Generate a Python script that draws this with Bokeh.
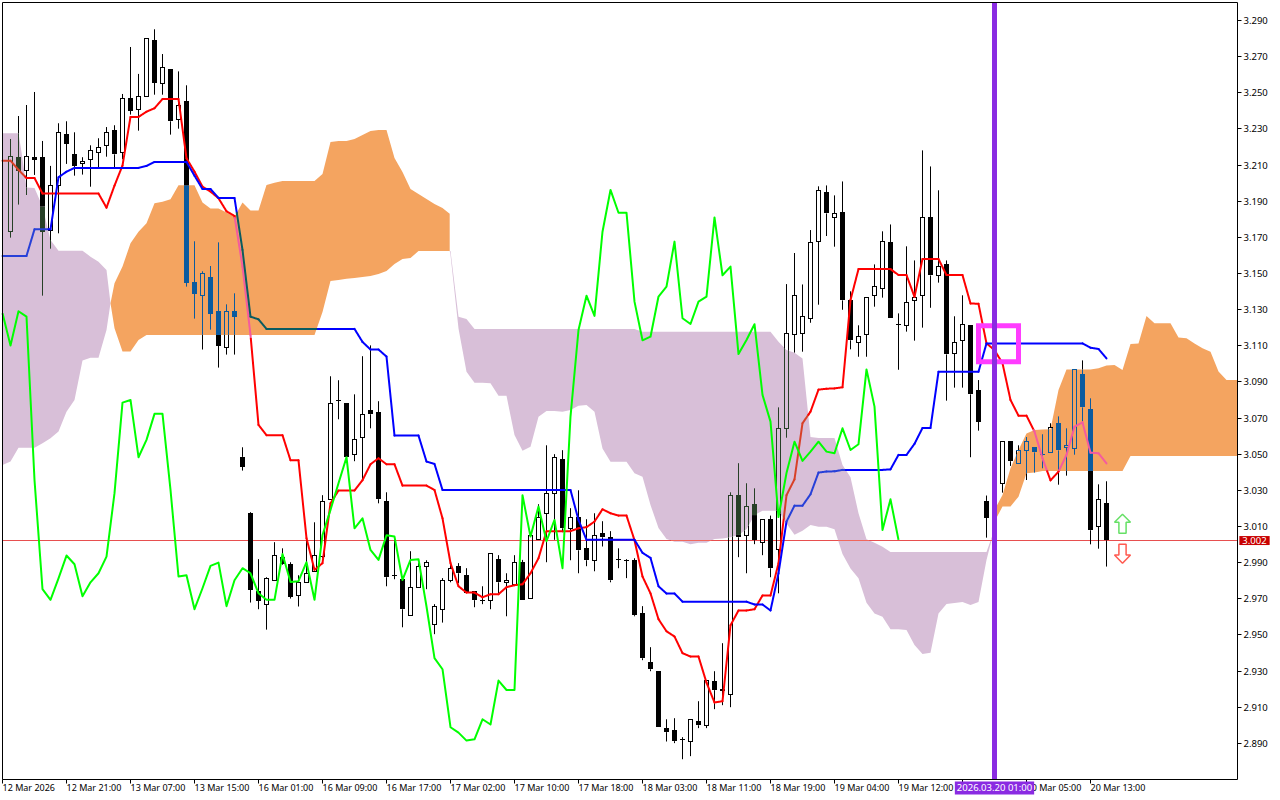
import numpy as np
from bokeh.plotting import figure
from bokeh.models import ColumnDataSource, FixedTicker, Label, NumeralTickFormatter
from bokeh.embed import file_html
from bokeh.resources import INLINE

# ---------- candles (bar index = position in list) ----------
OPENS = [3.1733,3.2144,3.2071,3.2144,3.2144,3.1739,3.1988,3.2270,3.2159,3.2109,
3.2132,3.2170,3.2209,3.2292,3.2170,3.2469,3.2408,3.2480,3.2790,3.2552,
3.2629,3.2353,3.2452,3.1451,3.1379,3.1479,3.1291,3.1092,3.1291,3.0485,
3.0173,2.9742,2.9670,2.9802,2.9930,2.9891,2.9719,2.9791,2.9852,2.9933,
3.0251,3.0798,3.0782,3.0500,3.0594,3.0743,3.0732,3.0240,2.9830,2.9808,
2.9609,2.9764,2.9880,2.9559,2.9642,2.9802,2.9880,2.9830,2.9742,2.9692,
2.9692,2.9919,2.9791,2.9780,2.9902,2.9703,3.0029,3.0173,3.0284,3.0472,
3.0090,3.0151,2.9979,2.9913,3.0062,3.0040,2.9919,2.9913,2.9913,2.9620,
2.9349,2.9299,2.8984,2.8973,2.8923,2.8912,2.9022,2.9000,2.9244,2.9199,
2.9172,3.0273,3.0051,3.0223,3.0013,3.0140,2.9970,3.0643,3.1163,3.1168,
3.1251,3.1677,3.1948,3.1810,3.1838,3.1351,3.1119,3.1163,3.1379,3.1417,
3.1672,3.1218,3.1213,3.1351,3.1379,3.1810,3.1489,3.1550,3.1058,3.1130,
3.1215,3.0855,3.0241,3.0150,3.0337,3.0571,3.0449,3.0521,3.0538,3.0499,
3.0510,3.0671,3.0538,3.0532,3.0942,3.0748,3.0101,3.0228]
HIGHS = [3.2244,3.2371,3.2432,3.2504,3.2233,3.2095,3.2331,3.2342,3.2281,3.2143,
3.2209,3.2248,3.2310,3.2320,3.2493,3.2753,3.2604,3.2801,3.2851,3.2714,
3.2629,3.2618,3.2541,3.1678,3.1512,3.1541,3.1672,3.1329,3.1390,3.0538,
3.0179,2.9919,2.9819,3.0013,2.9979,2.9902,2.9830,3.0026,3.0123,3.0273,
3.0931,3.0909,3.0782,3.0831,3.1042,3.1102,3.0793,3.0289,3.0040,2.9819,
2.9963,2.9897,2.9913,2.9670,2.9814,2.9897,2.9897,2.9869,2.9742,2.9769,
2.9952,2.9941,2.9841,2.9941,2.9915,3.0051,3.0223,3.0549,3.0500,3.0522,
3.0201,3.0300,3.0140,3.0173,3.0129,3.0074,2.9979,2.9919,2.9924,2.9659,
2.9432,2.9299,2.9033,2.9039,2.8934,2.9033,2.9133,2.9249,2.9299,2.9454,
3.0289,3.0450,3.0339,3.0311,3.0140,3.0160,3.0759,3.1441,3.1613,3.1439,
3.1740,3.1982,3.1987,3.1932,3.2009,3.1401,3.1213,3.1368,3.1550,3.1733,
3.1771,3.1279,3.1650,3.1572,3.2181,3.2092,3.1960,3.1572,3.1263,3.1379,
3.1215,3.0910,3.0271,3.0271,3.0571,3.0571,3.0549,3.0595,3.0538,3.0610,
3.0671,3.0709,3.0643,3.0969,3.1019,3.0809,3.0333,3.0350]
LOWS = [3.1698,3.1881,3.1934,3.2045,3.1377,3.1637,3.1722,3.2106,3.2041,3.2047,
3.1980,3.2087,3.2146,3.2087,3.2132,3.2379,3.2290,3.2480,3.2489,3.2489,
3.2268,3.2301,3.1427,3.1250,3.1079,3.1189,3.0979,3.1051,3.1051,3.0409,
2.9679,2.9642,2.9529,2.9802,2.9887,2.9701,2.9657,2.9791,2.9852,2.9924,
3.0251,3.0693,3.0483,3.0461,3.0361,3.0643,3.0228,2.9769,2.9808,2.9542,
2.9609,2.9764,2.9753,2.9504,2.9568,2.9791,2.9786,2.9731,2.9653,2.9670,
2.9642,2.9731,2.9603,2.9775,2.9692,2.9703,3.0026,2.9902,3.0026,3.0068,
2.9913,2.9841,2.9880,2.9852,2.9989,2.9791,2.9869,2.9814,2.9603,2.9360,
2.9299,2.8989,2.8910,2.8901,2.8812,2.8829,2.8984,2.8984,2.9089,2.9111,
2.9100,2.9930,2.9841,3.0002,2.9941,2.9819,2.9730,3.0591,3.1062,3.1067,
3.1227,3.1327,3.1707,3.1648,3.1299,3.1080,3.1039,3.1039,3.1316,3.1366,
3.1251,3.0967,3.1178,3.1128,3.1200,3.1310,3.1449,3.0796,3.0868,3.0868,
3.0483,3.0630,3.0038,3.0150,3.0287,3.0435,3.0449,3.0357,3.0398,3.0422,
3.0510,3.0331,3.0381,3.0497,3.0680,3.0001,2.9977,2.9878]
CLOSES = [3.2148,3.2067,3.2148,3.2130,3.1731,3.1988,3.2281,3.2218,3.2097,3.2120,
3.2181,3.2198,3.2281,3.2159,3.2469,3.2401,3.2480,3.2801,3.2556,3.2641,
3.2342,3.2430,3.1449,3.1388,3.1501,3.1278,3.1101,3.1291,3.1261,3.0431,
2.9751,2.9690,2.9813,2.9941,2.9891,2.9712,2.9791,2.9841,2.9941,3.0240,
3.0782,3.0798,3.0483,3.0582,3.0721,3.0721,3.0251,2.9819,2.9830,2.9642,
2.9764,2.9880,2.9902,2.9659,2.9802,2.9869,2.9841,2.9731,2.9692,2.9692,
2.9952,2.9791,2.9802,2.9902,2.9692,3.0051,3.0151,3.0284,3.0483,3.0090,
3.0151,2.9968,2.9913,3.0051,3.0040,2.9802,2.9919,2.9913,2.9609,2.9371,
2.9310,2.8989,2.8962,2.8912,2.8923,2.9033,2.9000,2.9249,2.9194,2.9192,
3.0273,3.0040,3.0212,3.0024,3.0140,2.9869,3.0643,3.1168,3.1379,3.1263,
3.1672,3.1960,3.1832,3.1832,3.1351,3.1130,3.1152,3.1368,3.1428,3.1677,
3.1251,3.1218,3.1340,3.1368,3.1810,3.1489,3.1539,3.1052,3.1119,3.1218,
3.0831,3.0680,3.0149,3.0240,3.0571,3.0461,3.0521,3.0571,3.0510,3.0499,
3.0649,3.0521,3.0549,3.0969,3.0759,3.0079,3.0250,3.0023]

# ---------- ichimoku lines: (bar, price) vertices ----------
TENKAN_X = [-1,0,1,2,3,4,11,12,13,14,15,16,17,18,19,21,22,23,24,25,26,27,28,29,30,31,32,34,35,36,37,38,39,40,41,43,44,45,46,47,48,49,52,53,54,55,56,57,58,59,60,61,62,63,64,65,66,67,70,71,72,73,74,75,76,77,78,79,80,81,82,83,84,85,86,87,88,89,90,91,92,93,94,95,96,97,98,99,100,101,102,103,104,105,106,110,111,112,113,114,116,117,119,120,121,122,123,124,125,126,127,128,129,130,131,132,133,134,135,136,137]
TENKAN_Y = [3.2124,3.2124,3.2073,3.2028,3.2028,3.1942,3.1942,3.1864,3.1986,3.2097,3.2366,3.2366,3.2395,3.2414,3.2465,3.2465,3.2137,3.2063,3.1980,3.1953,3.1916,3.1844,3.1818,3.1538,3.1160,3.0662,3.0605,3.0605,3.0466,3.0466,3.0035,2.9860,2.9897,3.0228,3.0299,3.0299,3.0356,3.0444,3.0477,3.0444,3.0444,3.0326,3.0326,3.0302,3.0145,2.9897,2.9769,2.9734,2.9734,2.9708,2.9725,2.9725,2.9764,2.9775,2.9780,2.9841,2.9924,3.0074,3.0074,3.0090,3.0096,3.0127,3.0195,3.0173,3.0160,3.0160,3.0024,2.9823,2.9730,2.9587,2.9520,2.9491,2.9399,2.9380,2.9380,2.9236,2.9126,2.9133,2.9553,2.9635,2.9635,2.9642,2.9718,2.9718,2.9896,3.0273,3.0361,3.0671,3.0735,3.0857,3.0862,3.0864,3.0870,3.1353,3.1524,3.1524,3.1491,3.1491,3.1371,3.1580,3.1580,3.1491,3.1491,3.1334,3.1332,3.1113,3.1076,3.1003,3.0800,3.0713,3.0713,3.0625,3.0477,3.0355,3.0403,3.0496,3.0652,3.0676,3.0508,3.0505,3.0449]
KIJUN_X = [-1,2,3,5,6,7,8,16,17,18,22,23,24,25,26,28,29,30,31,32,43,44,45,46,47,48,51,52,53,54,70,71,72,78,79,80,81,82,83,84,92,93,94,95,96,97,98,99,100,101,102,103,104,109,110,111,112,113,114,115,116,121,122,134,135,136,137]
KIJUN_Y = [3.1597,3.1597,3.1744,3.1744,3.2032,3.2063,3.2084,3.2084,3.2095,3.2117,3.2117,3.2041,3.1967,3.1967,3.1918,3.1918,3.1630,3.1261,3.1246,3.1193,3.1193,3.1121,3.1079,3.1079,3.1040,3.0603,3.0603,3.0459,3.0446,3.0302,3.0302,3.0136,3.0026,3.0026,2.9954,2.9926,2.9769,2.9729,2.9729,2.9684,2.9684,2.9668,2.9668,2.9635,2.9841,3.0127,3.0215,3.0215,3.0278,3.0398,3.0404,3.0405,3.0413,3.0413,3.0416,3.0496,3.0496,3.0557,3.0645,3.0645,3.0956,3.0956,3.1113,3.1113,3.1089,3.1082,3.1030]
CHIKOU_Y = [3.1280,3.1101,3.1291,3.1261,3.0357,2.9753,2.9694,2.9813,2.9939,2.9891,2.9714,2.9791,2.9841,2.9933,3.0284,3.0785,3.0800,3.0483,3.0579,3.0723,3.0723,3.0302,2.9823,2.9830,2.9642,2.9758,2.9882,2.9900,2.9659,2.9802,2.9869,2.9841,2.9730,2.9694,2.9694,2.9948,2.9793,2.9797,2.9902,2.9694,3.0053,3.0192,3.0339,3.0483,3.0090,3.0145,2.9970,2.9915,3.0051,3.0044,2.9804,2.9915,2.9919,2.9657,2.9371,2.9310,2.8989,2.8959,2.8915,2.8922,2.9033,2.9004,2.9247,2.9195,2.9195,3.0273,3.0044,3.0210,3.0018,3.0136,2.9869,3.0708,3.1187,3.1377,3.1265,3.1731,3.1962,3.1836,3.1836,3.1344,3.1130,3.1150,3.1372,3.1427,3.1676,3.1252,3.1220,3.1344,3.1372,3.1810,3.1490,3.1538,3.1054,3.1132,3.1219,3.0828,3.0680,3.0152,3.0396,3.0569,3.0463,3.0514,3.0569,3.0514,3.0505,3.0643,3.0523,3.0555,3.0969,3.0763,3.0081,3.0250,3.0026]
CHIKOU_FIRST_BAR = -1

# ---------- cloud outlines ----------
LILAC1_TOP_X = [-1,1,1.4,2,3,4,5,6,9,10,11,12,12.5]
LILAC1_TOP_Y = [3.2275,3.2275,3.2165,3.1975,3.1973,3.1870,3.1685,3.1626,3.1626,3.1593,3.1565,3.1519,3.1335]
LILAC1_BOT_X = [-1,0,1,3,4,5,6,7,8,9,10,11,12,12.5]
LILAC1_BOT_Y = [3.0440,3.0459,3.0536,3.0536,3.0560,3.0588,3.0625,3.0735,3.0800,3.1018,3.1034,3.1034,3.1187,3.1335]

ORANGE1_TOP_X = [12.5,13,14,15,16,17,18,19,20,21,23,24,25,26,27,28,29,30,31,32,33,34,38,39,40,41,42,43,44,45,46,47,48,49,50,51,52,53,54,54.9]
ORANGE1_TOP_Y = [3.1335,3.1446,3.1538,3.1667,3.1731,3.1778,3.1888,3.1897,3.1910,3.1988,3.1988,3.1892,3.1860,3.1860,3.1837,3.1814,3.1892,3.1848,3.1848,3.1990,3.2002,3.2012,3.2012,3.2050,3.2227,3.2233,3.2233,3.2244,3.2266,3.2288,3.2294,3.2294,3.2139,3.2061,3.1967,3.1939,3.1912,3.1884,3.1862,3.1830]
ORANGE1_BOT_X = [12.5,13,14,15,16,17,38,39,40,41,42,43,45,46,47,48,49,50,51,54.9]
ORANGE1_BOT_Y = [3.1335,3.1197,3.1068,3.1068,3.1132,3.1160,3.1160,3.1287,3.1458,3.1464,3.1470,3.1475,3.1486,3.1497,3.1513,3.1552,3.1580,3.1585,3.1624,3.1624]

LILAC2_TOP_X = [54.9,55,56,57,58,78,79,95,96,97,98,99,100,101,103,104,105,106,107,108,109,110,122,122.9]
LILAC2_TOP_Y = [3.1624,3.1624,3.1261,3.1248,3.1193,3.1193,3.1178,3.1178,3.1122,3.1076,3.1061,3.1030,3.0595,3.0589,3.0589,3.0440,3.0372,3.0173,3.0029,3.0010,2.9988,2.9959,2.9959,3.0071]
LILAC2_BOT_X = [54.9,55,56,57,58,59,60,61,62,63,64,65,66,67,68,69,70,71,72,73,74,75,77,78,79,80,81,82,83,84,85,86,87,88,89,90,91,92,93,94,96,97,98,99,100,101,102,103,104,105,106,107,108,109,110,111,112,113,114,115,116,117,118,119,120,121,122,122.9]
LILAC2_BOT_Y = [3.1624,3.1602,3.1196,3.0956,3.0895,3.0895,3.0892,3.0823,3.0823,3.0606,3.0519,3.0541,3.0707,3.0739,3.0739,3.0735,3.0744,3.0768,3.0772,3.0735,3.0532,3.0458,3.0458,3.0394,3.0375,3.0219,3.0091,3.0031,3.0016,3.0016,3.0001,3.0010,3.0010,3.0031,3.0034,3.0040,3.0053,3.0084,3.0163,3.0187,3.0187,3.0117,3.0054,3.0076,3.0108,3.0099,3.0099,3.0084,2.9948,2.9868,2.9813,2.9678,2.9619,2.9601,2.9531,2.9531,2.9527,2.9444,2.9394,2.9401,2.9619,2.9671,2.9677,2.9682,2.9665,2.9682,2.9914,3.0071]

ORANGE2_TOP_X = [122.9,123,124,125,126,127,128,129,130,131,132,135,136,137,138,139,140,141,142,143,145,146,147,148,149,150,151,152,153.375]
ORANGE2_TOP_Y = [3.0071,3.0191,3.0274,3.0422,3.0523,3.0615,3.0634,3.0636,3.0638,3.0855,3.0969,3.0969,3.0975,3.0990,3.0993,3.0966,3.1110,3.1113,3.1264,3.1224,3.1224,3.1145,3.1141,3.1113,3.1086,3.1067,3.0957,3.0910,3.0910]
ORANGE2_BOT_X = [122.9,123,124,125,126,127,128,129,139,140,153.375]
ORANGE2_BOT_Y = [3.0071,3.0127,3.0210,3.0210,3.0265,3.0394,3.0398,3.0407,3.0407,3.0490,3.0490]

# ---------- axes and marks ----------
Y_TICKS = [2.89,2.91,2.93,2.95,2.97,2.99,3.01,3.03,3.05,3.07,3.09,3.11,3.13,3.15,3.17,3.19,3.21,3.23,3.25,3.27,3.29]
X_TICKS = [-1,7,15,23,31,39,47,55,63,71,79,87,95,103,111,119,127,135]
X_LABELS = ["12 Mar 2026","12 Mar 21:00","13 Mar 07:00","13 Mar 15:00","16 Mar 01:00","16 Mar 09:00","16 Mar 17:00","17 Mar 02:00","17 Mar 10:00","17 Mar 18:00","18 Mar 03:00","18 Mar 11:00","18 Mar 19:00","19 Mar 04:00","19 Mar 12:00","","20 Mar 05:00","20 Mar 13:00"]
LAST_PRICE = 3.0022
LAST_LABEL = "3.002"
CROSS_BAR = 123
CROSS_LABEL = "2026.03.20 01:00"
BOX_BARS = (121, 126)
BOX_PRICES = (3.1011, 3.1210)
UP_ARROW_BAR = 139
UP_ARROW_PRICES = (3.0167, 3.0123, 3.0062)
DOWN_ARROW_PRICES = (2.9896, 2.9942, 3.0001)

# plotting-area rectangle, in (bar, price)
AREA_LEFT, AREA_RIGHT, AREA_BOTTOM, AREA_TOP = -1.0, 153.375, 2.86998, 3.2999
TAG_BAR = 155.5
LABEL_PRICE = 2.8653

SANDY, THISTLE = "#F4A460", "#D8BFD8"
FONT = "Noto Sans"
FS = "9.5px"
FSX = "9px"
PX = 1 / 8.0  # one screen pixel, in bars
H = 796
PY = (3.3013 - 2.86085) / H  # one screen pixel, in price
# half a pixel of shift: the canvas adds 0.5 to every coordinate
X0, X1 = -1.25, 157.5
Y0, Y1 = 2.86085 - 0.5 * PY, 3.3013 - 0.5 * PY


def snap_mid(v):
    return Y0 + np.round((v - Y0) / PY) * PY


def snap_edge(v):
    return Y0 + (np.floor((v - Y0) / PY) + 0.5) * PY


p = figure(width=1270, height=H, output_backend="svg", toolbar_location=None,
           x_range=(X0, X1), y_range=(Y0, Y1),
           y_axis_location="right", min_border_left=0, min_border_top=0,
           min_border_right=0, min_border_bottom=0, margin=(0, 0, 0, 0),
           background_fill_color="white", border_fill_color="white")
p.grid.visible = False
p.outline_line_color = None

ya = p.yaxis[0]
ya.fixed_location = AREA_RIGHT
ya.ticker = FixedTicker(ticks=Y_TICKS)
ya.formatter = NumeralTickFormatter(format="0.000")
ya.major_tick_in = 0; ya.major_tick_out = 4; ya.minor_tick_line_color = None
ya.axis_line_color = None
ya.major_label_standoff = 2
ya.major_label_text_font = FONT; ya.major_label_text_font_size = FS; ya.major_label_text_color = "black"
xa = p.xaxis[0]
xa.fixed_location = float(snap_mid(AREA_BOTTOM))
xa.ticker = FixedTicker(ticks=X_TICKS)
xa.major_label_overrides = {t: "" for t in X_TICKS}
xa.axis_line_color = None
xa.major_tick_in = 0; xa.major_tick_out = 4; xa.minor_tick_line_color = None

clouds = [(LILAC1_TOP_X, LILAC1_TOP_Y, LILAC1_BOT_X, LILAC1_BOT_Y, THISTLE),
          (ORANGE1_TOP_X, ORANGE1_TOP_Y, ORANGE1_BOT_X, ORANGE1_BOT_Y, SANDY),
          (LILAC2_TOP_X, LILAC2_TOP_Y, LILAC2_BOT_X, LILAC2_BOT_Y, THISTLE),
          (ORANGE2_TOP_X, ORANGE2_TOP_Y, ORANGE2_BOT_X, ORANGE2_BOT_Y, SANDY)]
for tx, ty, bx, by, col in clouds:
    p.patch(list(tx) + list(bx)[::-1], list(ty) + list(by)[::-1], fill_color=col, line_color=None)


def xor_over(col, cloud):
    """The terminal paints marks inside the cloud by inverted XOR."""
    v = int(col[1:], 16) ^ (~int(cloud[1:], 16) & 0xFFFFFF)
    return "#%06X" % v


def cover(x):
    for tx, ty, bx, by, col in clouds:
        if tx[0] <= x <= tx[-1]:
            return float(np.interp(x, bx, by)), float(np.interp(x, tx, ty)), col
    return None


def split_v(x, a, b):
    """Cut the price span a..b at bar x into (lo, hi, cloud colour or None)."""
    a, b = min(a, b), max(a, b)
    c = cover(x)
    if c is None:
        return [(a, b, None)]
    lo, hi, col = c
    out = []
    if a < lo:
        out.append((a, min(b, lo), None))
    if b > lo and a < hi:
        out.append((max(a, lo), min(b, hi), col))
    if b > hi:
        out.append((max(a, hi), b, None))
    return out


def draw_xor_line(xs, ys, color, width=2):
    """Draw the polyline through its vertices, recolouring the stretches inside the cloud."""
    xx, yy, cc = [], [], []
    def state(x, y):
        c = cover(x)
        return c[2] if c is not None and c[0] <= y <= c[1] else None
    for k in range(len(xs) - 1):
        n = 24
        run_x, run_y, run_s = [xs[k]], [ys[k]], state(xs[k], ys[k])
        for t in range(1, n + 1):
            x = xs[k] + (xs[k + 1] - xs[k]) * t / n
            y = ys[k] + (ys[k + 1] - ys[k]) * t / n
            s = state(x, y)
            run_x.append(x); run_y.append(y)
            if s != run_s:
                xx.append(run_x); yy.append(run_y)
                cc.append(xor_over(color, run_s) if run_s else color)
                run_x, run_y, run_s = [x], [y], s
        xx.append(run_x); yy.append(run_y)
        cc.append(xor_over(color, run_s) if run_s else color)
    p.multi_line(xx, yy, line_color=cc, line_width=width,
                 line_join="round", line_cap="round" if width > 1 else "butt")


# the last-price line lies under the candles and the indicator lines
hline_x = [float(v) for v in np.arange(AREA_LEFT, AREA_RIGHT, 1.0)] + [AREA_RIGHT]
draw_xor_line(hline_x, [float(snap_mid(LAST_PRICE))] * len(hline_x), "#DC0000", width=1)

seg = dict(x0=[], y0=[], x1=[], y1=[], c=[])
quad = dict(l=[], r=[], b=[], t=[], c=[])


def add_v(x, a, b):
    for lo, hi, col in split_v(x, a, b):
        seg["x0"].append(x); seg["x1"].append(x)
        seg["y0"].append(lo); seg["y1"].append(hi)
        seg["c"].append(xor_over("#000000", col) if col else "#000000")


def add_h(x, y):
    y = snap_mid(y)
    c = cover(x)
    inside = c is not None and c[0] <= y <= c[1]
    seg["x0"].append(x - 2.5 * PX); seg["x1"].append(x + 2.5 * PX)
    seg["y0"].append(y); seg["y1"].append(y)
    seg["c"].append(xor_over("#000000", c[2]) if inside else "#000000")


for i, (o, h, l, cl) in enumerate(zip(OPENS, HIGHS, LOWS, CLOSES)):
    top, bot = max(o, cl), min(o, cl)
    add_v(i, top, h)
    add_v(i, l, bot)
    if cl > o:
        add_v(i - 2 * PX, snap_mid(bot), snap_mid(top))
        add_v(i + 2 * PX, snap_mid(bot), snap_mid(top))
        add_h(i, top)
        add_h(i, bot)
    elif o == cl:
        add_h(i, o)
    else:
        for lo, hi, col in split_v(i, snap_edge(bot), snap_edge(top)):
            quad["l"].append(i - 2.5 * PX); quad["r"].append(i + 2.5 * PX)
            quad["b"].append(lo); quad["t"].append(hi)
            quad["c"].append(xor_over("#000000", col) if col else "#000000")

p.quad(left="l", right="r", bottom="b", top="t", fill_color="c", line_color=None,
       source=ColumnDataSource(quad))
p.segment("x0", "y0", "x1", "y1", line_color="c", line_width=1, source=ColumnDataSource(seg))

draw_xor_line(TENKAN_X, TENKAN_Y, "#FF0000")
draw_xor_line(KIJUN_X, KIJUN_Y, "#0000FF")
chikou_x = [CHIKOU_FIRST_BAR + k for k in range(len(CHIKOU_Y))]
p.line(chikou_x, CHIKOU_Y, line_color="#00FF00", line_width=2, line_join="round")


def arrow(prices, line):
    tip, shoulder, end = prices
    b = UP_ARROW_BAR
    p.patch([b, b + 1, b + 0.45, b + 0.45, b - 0.45, b - 0.45, b - 1, b],
            [tip, shoulder, shoulder, end, end, shoulder, shoulder, tip],
            fill_color="white", line_color=line, line_width=1.5)


arrow(UP_ARROW_PRICES, "#66E066")
arrow(DOWN_ARROW_PRICES, "#FF5A50")

p.quad(left=[BOX_BARS[0]], right=[BOX_BARS[1]], bottom=[BOX_PRICES[0]], top=[BOX_PRICES[1]],
       fill_color=None, line_color="#FF3CFF", line_width=5, line_join="miter")
p.segment([CROSS_BAR], [AREA_BOTTOM], [CROSS_BAR], [AREA_TOP], line_color="#8A2BE2", line_width=5)

p.quad(left=[AREA_LEFT], right=[AREA_RIGHT], bottom=[float(snap_mid(AREA_BOTTOM))], top=[float(snap_mid(AREA_TOP))],
       fill_color=None, line_color="black", line_width=1)

for t, s in zip(X_TICKS, X_LABELS):
    if s:
        p.add_layout(Label(x=t, y=LABEL_PRICE, text=s, text_align="left", text_baseline="middle",
                           text_font=FONT, text_font_size=FSX, text_color="black"))
p.add_layout(Label(x=CROSS_BAR, y=LABEL_PRICE, text=CROSS_LABEL, text_align="center", text_baseline="middle",
                   text_font=FONT, text_font_size=FS, text_color="white",
                   background_fill_color="#8A2BE2", padding=(2, 0)))
p.add_layout(Label(x=TAG_BAR, y=LAST_PRICE, text=LAST_LABEL, text_align="center", text_baseline="middle",
                   text_font=FONT, text_font_size=FS, text_color="white",
                   background_fill_color="#C80000", padding=(3, 1)))

open("out.html", "w").write(file_html(p, INLINE))
